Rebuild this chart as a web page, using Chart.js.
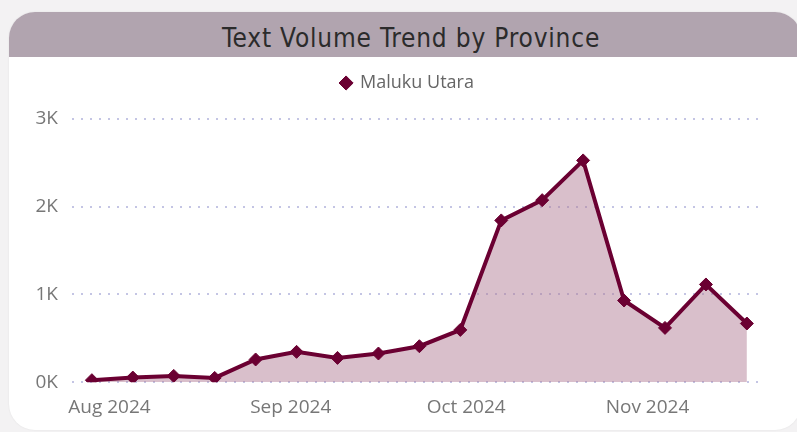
<!DOCTYPE html>
<html>
<head>
<meta charset="utf-8">
<script src="https://cdn.jsdelivr.net/npm/chart.js@4.4.1/dist/chart.umd.min.js"></script>
<style>
  html, body { margin: 0; padding: 0; width: 797px; height: 432px; overflow: hidden; background: #f3f2f3; }
  #card { position: absolute; left: 9px; top: 12px; width: 792px; height: 418px; background: #ffffff; border-radius: 26px; overflow: hidden; box-shadow: 0 0 2px rgba(0,0,0,0.08); }
  #header { position: absolute; left: 0; top: 0; width: 100%; height: 45px; background: #b1a4af; z-index: 2; }
  #title { position: absolute; left: 0; top: 4px; width: 804px; height: 45px; line-height: 45px; text-align: center; font-family: "DejaVu Sans Condensed", "DejaVu Sans", sans-serif; font-size: 26px; letter-spacing: 0.8px; color: #2b2b2b; white-space: nowrap; }
  #wrap { position: absolute; left: 0; top: 43px; width: 788px; height: 375px; z-index: 1; }
</style>
</head>
<body>
<div id="card">
  <div id="header"><div id="title">Text Volume Trend by Province</div></div>
  <div id="wrap"><canvas id="c" width="788" height="375"></canvas></div>
</div>
<script>
const seriesName = 'Maluku Utara';
const weeks = ['2024-07-29','2024-08-05','2024-08-12','2024-08-19','2024-08-26','2024-09-02','2024-09-09','2024-09-16','2024-09-23','2024-09-30','2024-10-07','2024-10-14','2024-10-21','2024-10-28','2024-11-04','2024-11-11','2024-11-18'];
const volumes = [23, 53, 72, 49, 259, 346, 277, 327, 410, 596, 1844, 2075, 2528, 931, 619, 1114, 669];
const monthTicks = ['2024-08-01','2024-09-01','2024-10-01','2024-11-01'];
const monthLabels = ['Aug 2024','Sep 2024','Oct 2024','Nov 2024'];
const yTicks = [0, 1000, 2000, 3000];
const yLabels = ['0K','1K','2K','3K'];

const DAY = 86400000;
const t0 = Date.parse(weeks[0]);
const toDay = d => (Date.parse(d) - t0) / DAY;
const points = weeks.map((w, i) => ({ x: toDay(w), y: volumes[i] }));
const xTickVals = monthTicks.map(toDay);

const maroon = '#6b0032';
const tickFont = { family: '"Open Sans", "Noto Sans", sans-serif', size: 19 };

new Chart(document.getElementById('c'), {
  type: 'line',
  data: {
    datasets: [{
      label: seriesName,
      data: points,
      borderColor: maroon,
      backgroundColor: 'rgba(176,122,146,0.48)',
      borderWidth: 4,
      fill: 'origin',
      tension: 0,
      pointStyle: 'rectRot',
      pointRadius: 6.5,
      pointHoverRadius: 6.5,
      pointBackgroundColor: maroon,
      pointBorderColor: maroon,
      pointBorderWidth: 1
    }]
  },
  options: {
    responsive: false,
    animation: false,
    layout: { padding: { left: 9, right: 0, top: 0, bottom: 5 } },
    plugins: {
      legend: {
        display: true,
        position: 'top',
        labels: {
          usePointStyle: true,
          pointStyle: 'rectRot',
          boxHeight: 10,
          boxWidth: 10,
          padding: 19,
          color: '#666666',
          font: { family: '"Open Sans", "Noto Sans", sans-serif', size: 18 }
        }
      },
      title: {
        display: true,
        text: ' ',
        position: 'top',
        weight: 500,
        font: { size: 10, lineHeight: 1 },
        padding: { top: 0, bottom: 7 }
      },
      tooltip: { enabled: false }
    },
    scales: {
      x: {
        type: 'linear',
        min: -3.4,
        max: 113.9,
        grid: { display: false },
        border: { display: false },
        afterBuildTicks: s => { s.ticks = xTickVals.map(v => ({ value: v })); },
        ticks: {
          autoSkip: false,
          maxRotation: 0,
          padding: 6,
          color: '#777777',
          font: tickFont,
          callback: (v) => { const i = xTickVals.indexOf(v); return i >= 0 ? monthLabels[i] : ''; }
        }
      },
      y: {
        min: 0,
        max: 3000,
        afterBuildTicks: s => { s.ticks = yTicks.map(v => ({ value: v })); },
        afterFit: s => { s.width = 54; },
        grid: { color: '#c4c5e4', lineWidth: 2, drawTicks: false },
        border: { display: false, dash: [2, 7] },
        ticks: {
          padding: 14,
          color: '#777777',
          font: tickFont,
          callback: (v) => { const i = yTicks.indexOf(v); return i >= 0 ? yLabels[i] : ''; }
        }
      },
      yr: {
        type: 'linear',
        position: 'right',
        display: true,
        grid: { display: false, drawTicks: false },
        border: { display: false },
        ticks: { display: false },
        afterFit: s => { s.width = 39; }
      }
    }
  }
});
</script>
</body>
</html>
